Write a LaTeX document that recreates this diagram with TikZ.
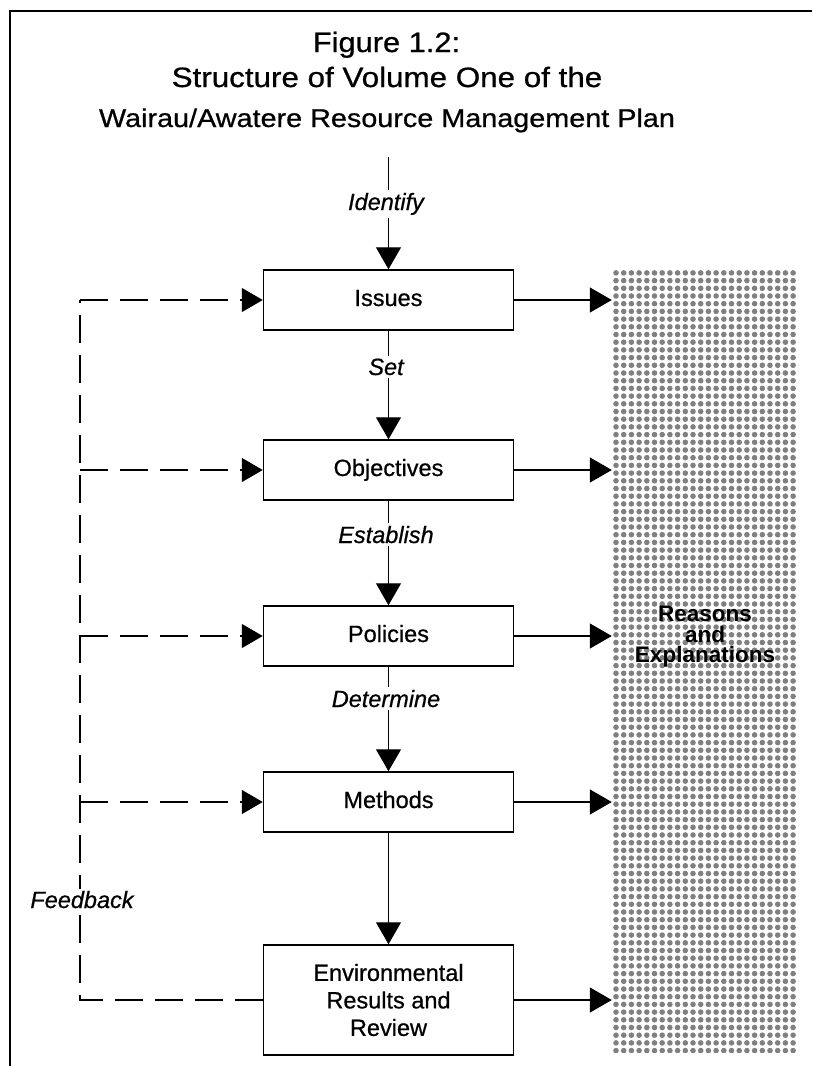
\documentclass[tikz,border=0pt]{standalone}
\usepackage{fontspec}
\setmainfont{Liberation Sans}[FakeBold=0.7]
\newfontfamily\rsfam{Liberation Sans}
\usetikzlibrary{arrows.meta,patterns.meta}
\definecolor{dotgray}{RGB}{128,128,128}
\newcommand\bxfont{\fontsize{23.5}{27.5}\selectfont}
\newcommand\lbfont{\fontsize{23.5}{27.5}\selectfont\itshape}
\newcommand\rsfont{\rsfam\fontsize{22.5}{20.5}\selectfont\bfseries}
\tikzdeclarepattern{
  name=halftone,
  type=uncolored,
  bounding box={(-3.85pt,-3.85pt) and (3.85pt,3.85pt)},
  tile size={(7.7pt,7.7pt)},
  code={\fill (0pt,0pt) circle (2.8pt);}
}
\tikzset{
  box/.style={draw, line width=1.5pt, minimum width=250pt, minimum height=60pt,
    inner sep=0pt, font=\bxfont, text height=17pt, text depth=5pt, align=center},
  arr/.style={line width=1.3pt, -{Triangle[length=22pt,width=25pt]}},
  fb/.style={line width=1.3pt, dash pattern=on 28pt off 12pt},
  fbarr/.style={fb, -{Triangle[length=21pt,width=24pt]}},
  lbl/.style={font=\lbfont, fill=white, inner sep=3pt, anchor=base},
  ttl/.style={anchor=base, inner sep=0pt},
  shadebox/.style={pattern={halftone}, pattern color=dotgray, draw=none,
    minimum width=186pt, minimum height=783pt, inner sep=0pt},
  rstext/.style={font=\rsfont, align=center, inner sep=0pt}
}
\begin{document}
\begin{tikzpicture}[x=1pt,y=-1pt]
\useasboundingbox (0,0) rectangle (812,1066);
% frame
\draw[line width=2.6pt] (812,11) -- (10,11) -- (10,1066);
% title
\node[ttl] (t1) at (386.5,52) {\fontsize{28}{30}\selectfont\scalebox{1.1}[1]{Figure 1.2:}};
\node[ttl] (t2) at (387,87) {\fontsize{28}{30}\selectfont\scalebox{1.12}[1]{Structure of Volume One of the}};
\node[ttl] (t3) at (387,127) {\fontsize{25.7}{28}\selectfont\scalebox{1.12}[1]{Wairau/Awatere Resource Management Plan}};
% reasons box
\node[shadebox] (rs) at (705,660.5) {};
\node[rstext] (rt) at (705,637) {Reasons\\and\\Explanations};
% boxes
\node[box] (iss) at (388.5,300) {Issues};
\node[box] (obj) at (388.5,470) {Objectives};
\node[box] (pol) at (388.5,636) {Policies};
\node[box] (met) at (388.5,802) {Methods};
\node[box, minimum height=110pt, text height=, text depth=] (env) at (388.5,1000) {Environmental\\Results and\\Review};
% top entry
\coordinate (start) at (388.5,157);
\draw[arr] (start) -- (iss.north);
\draw[arr] (iss.south) -- (obj.north);
\draw[arr] (obj.south) -- (pol.north);
\draw[arr] (pol.south) -- (met.north);
\draw[arr] (met.south) -- (env.north);
% labels
\node[lbl] at (386,210) {Identify};
\node[lbl] at (386,375) {Set};
\node[lbl] at (386,543) {Establish};
\node[lbl] at (386,707) {Determine};
% right arrows
\foreach \b in {iss,obj,pol,met,env}{
  \draw[arr] (\b.east) -- (\b.east -| rs.west);
}
% feedback
\coordinate (fbtop) at (80,300);
\draw[fb] (env.west) -| (fbtop);
\foreach \b in {iss,obj,pol,met}{
  \draw[fbarr] (\b.west -| fbtop) -- (\b.west);
}
\node[lbl, inner sep=2pt] at (82,908) {Feedback};
\end{tikzpicture}
\end{document}
